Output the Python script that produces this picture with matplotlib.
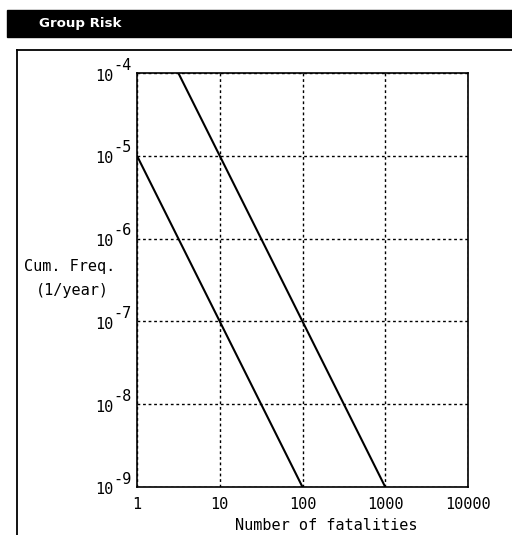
import matplotlib
matplotlib.use('Agg')
import matplotlib.pyplot as plt
from matplotlib.patches import Rectangle
from matplotlib.lines import Line2D

# data (F-N curves, slope -2)
lower_x = [1, 100]
lower_y = [1e-5, 1e-9]
upper_x = [3.16, 1000]
upper_y = [1e-4, 1e-9]
x_ticks = [1, 10, 100, 1000, 10000]
x_labels = ['1', '10', '100', '1000', '10000']
y_exps = [-4, -5, -6, -7, -8, -9]

mono = 'DejaVu Sans Mono'
W, H = 512, 535

fig = plt.figure(figsize=(W / 100, H / 100), dpi=100)

# header bar
fig.patches.append(Rectangle((7 / W, 1 - 37 / H), 1 - 7 / W, 27 / H,
                             transform=fig.transFigure, color='black', zorder=0))
fig.text(39 / W, 1 - 24 / H, 'Group Risk', color='white', fontweight='bold',
         fontsize=9.6, va='center', ha='left', family='DejaVu Sans')

# outer frame (top and left)
fig.add_artist(Line2D([17 / W, 1], [1 - 50 / H, 1 - 50 / H], color='black', lw=1.3,
                      transform=fig.transFigure))
fig.add_artist(Line2D([17 / W, 17 / W], [1 - 50 / H, 0], color='black', lw=1.3,
                      transform=fig.transFigure))

ax = fig.add_axes([137 / W, (H - 487) / H, (468 - 137) / W, (487 - 73) / H])
ax.set_xscale('log')
ax.set_yscale('log')
ax.set_xlim(1, 10000)
ax.set_ylim(1e-9, 1e-4)

ax.plot(lower_x, lower_y, color='black', lw=1.5)
ax.plot(upper_x, upper_y, color='black', lw=1.5)

ax.set_xticks(x_ticks)
ax.set_xticklabels(x_labels, family=mono, fontsize=11)
ax.xaxis.set_minor_locator(matplotlib.ticker.NullLocator())
ax.yaxis.set_minor_locator(matplotlib.ticker.NullLocator())
ax.set_yticks([10.0 ** e for e in y_exps])
ax.set_yticklabels([])
ax.tick_params(axis='both', length=0, pad=7)
ax.grid(True, color='black', linestyle=(0, (2, 2)), linewidth=1)
for s in ax.spines.values():
    s.set_linewidth(1.2)

# y tick labels drawn as "10" with a raised exponent
for e in y_exps:
    ax.annotate('10', xy=(0, 10.0 ** e), xycoords=('axes fraction', 'data'),
                xytext=(-24, -3), textcoords='offset pixels', ha='right', va='center',
                family=mono, fontsize=11, annotation_clip=False)
    ax.annotate(str(e), xy=(0, 10.0 ** e), xycoords=('axes fraction', 'data'),
                xytext=(-24, 8), textcoords='offset pixels', ha='left', va='center',
                family=mono, fontsize=11, annotation_clip=False)

fig.text(70 / W, 1 - 267 / H, 'Cum. Freq.', family=mono, fontsize=11,
         ha='center', va='center')
fig.text(72 / W, 1 - 291 / H, '(1/year)', family=mono, fontsize=11,
         ha='center', va='center')
fig.text(326 / W, 1 - 526 / H, 'Number of fatalities', family=mono, fontsize=11,
         ha='center', va='center')

fig.savefig('out.png', dpi=100)
